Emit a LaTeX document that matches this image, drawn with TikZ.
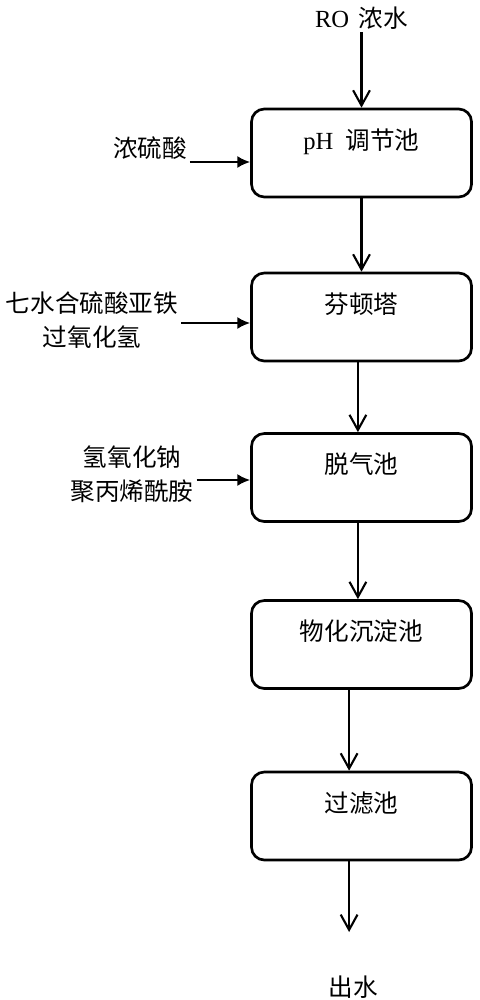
\documentclass[tikz,border=0pt]{standalone}
\usepackage{fontspec}
\setmainfont{Liberation Serif}
\newfontfamily\cjk{Noto Sans CJK SC}
\usetikzlibrary{arrows.meta}
\tikzstyle{block} = [rectangle, draw, line width=1.9pt, rounded corners=0.32cm,
    text width=5.5cm, inner xsep=0pt, inner ysep=0pt, text height=1.0cm, text depth=1.2cm,
    align=center, font=\cjk\fontsize{17.5}{21}\selectfont]
\tikzstyle{chem} = [align=center, inner sep=2pt, font=\cjk\fontsize{17.5}{24}\selectfont]
\tikzstyle{line} = [draw, line width=1.5pt, -{Straight Barb[length=0.38cm, width=0.42cm, line width=1.5pt]}]
\tikzstyle{feed} = [draw, line width=1.5pt, -{Latex[length=0.32cm, width=0.3cm]}]

\begin{document}
\begin{tikzpicture}[node distance = 4cm, auto]
    \useasboundingbox (0,0) rectangle (11.975,-25);
    % Place nodes
    \node [block] at (9.0375,-3.825) (ph) {{\rmfamily pH}\, 调节池};
    \node [block, below of=ph, node distance=4.1cm] (fenton) {芬顿塔};
    \node [block, below of=fenton, node distance=4.0125cm] (degas) {脱气池};
    \node [block, below of=degas, node distance=4.175cm] (settle) {物化沉淀池};
    \node [block, below of=settle, node distance=4.2875cm] (filter) {过滤池};
    \node [chem, above of=ph, node distance=3.375cm] (ro) {{\rmfamily RO}\, 浓水};
    \node [chem, below of=filter, node distance=4.275cm, xshift=-0.2cm] (out) {出水};
    \coordinate [below of=filter, node distance=2.9cm, xshift=-0.31cm] (outend);
    \node [chem, left of=ph, node distance=5.2875cm, yshift=0.125cm] (acid) {浓硫酸};
    \node [chem, left of=fenton, node distance=6.7375cm, yshift=-0.075cm] (reagent) {七水合硫酸亚铁\\过氧化氢};
    \node [chem, left of=degas, node distance=5.7375cm, yshift=0.0875cm] (floc) {氢氧化钠\\聚丙烯酰胺};
    % Draw edges
    \path [line] (ro) -- (ph);
    \path [line] (ph) -- (fenton);
    \path [line] ([xshift=-0.09cm] fenton.south) -- ([xshift=-0.09cm] degas.north);
    \path [line] ([xshift=-0.09cm] degas.south) -- ([xshift=-0.09cm] settle.north);
    \path [line] ([xshift=-0.31cm] settle.south) -- ([xshift=-0.31cm] filter.north);
    \path [line] ([xshift=-0.31cm] filter.south) -- (outend);
    \path [feed] ([yshift=-0.225cm] acid.east |- ph.west) -- ([yshift=-0.225cm] ph.west);
    \path [feed] ([yshift=-0.15cm] reagent.east |- fenton.west) -- ([yshift=-0.15cm] fenton.west);
    \path [feed] ([yshift=-0.0625cm] floc.east |- degas.west) -- ([yshift=-0.0625cm] degas.west);
\end{tikzpicture}
\end{document}
